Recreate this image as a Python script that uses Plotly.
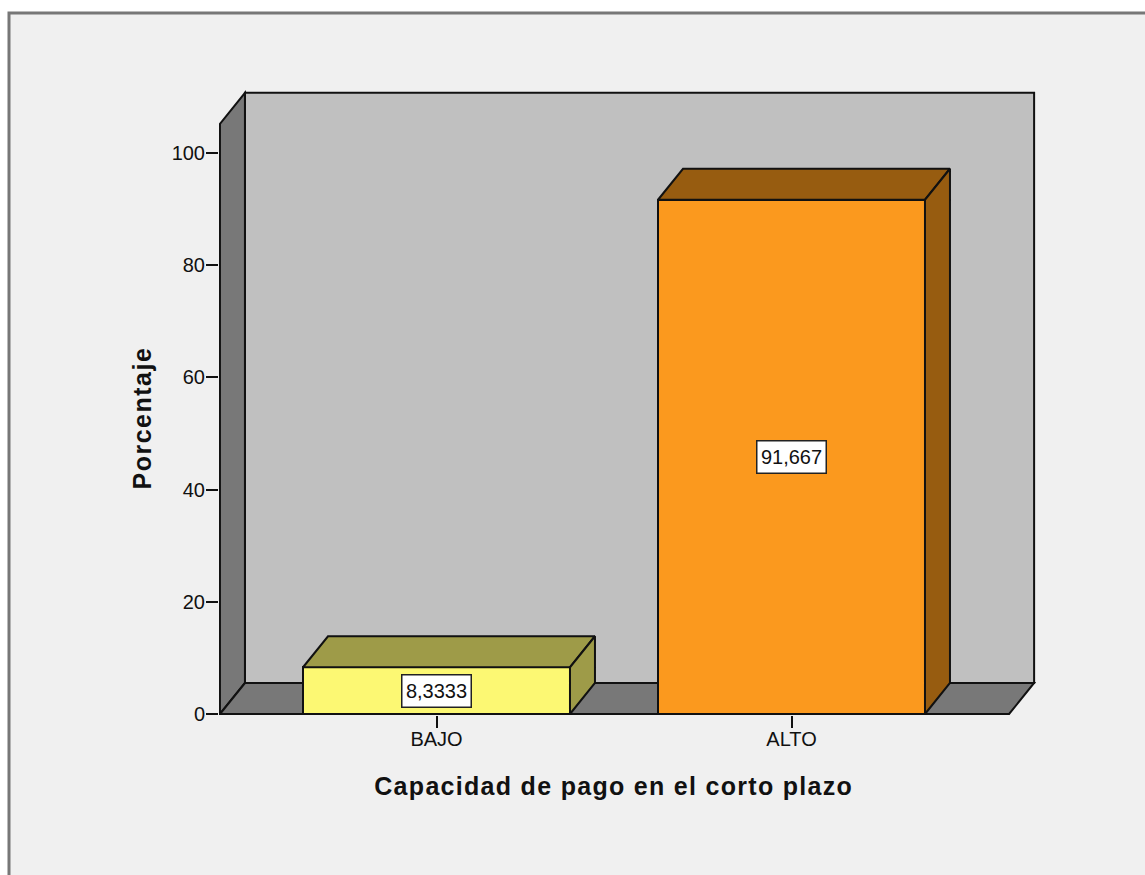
import plotly.graph_objects as go

categories = ["BAJO", "ALTO"]
values = [8.3333, 91.667]
value_labels = ["8,3333", "91,667"]
y_ticks = [0, 20, 40, 60, 80, 100]
face_colors = ["#fcf873", "#fb991e"]
shade_colors = ["#9e9b48", "#975c10"]
x_pos = [0, 1]
x_title = "Capacidad de pago en el corto plazo"
y_title = "Porcentaje"

BAR_W = 0.752
DX = 0.0704
DY = 5.526
X0, X1 = -0.61, 1.613
WALL = 105.2
EDGE = "#111111"
FONT = "Liberation Sans, Arial, sans-serif"
PL, PR, PT, PB = 219, 1036, 89, 715
PW, PH = PR - PL, PB - PT


def path(pts):
    return "M" + " L".join(f"{x},{y}" for x, y in pts) + " Z"


def wall(pts, color):
    return dict(type="path", path=path(pts), xref="x", yref="y", fillcolor=color,
                line=dict(color=EDGE, width=2), layer="below")


shapes = [
    # page frame
    dict(type="rect", xref="paper", yref="paper", x0=(9 - PL) / PW, x1=(1150 - PL) / PW,
         y0=(PB - 880) / PH, y1=(PB - 13) / PH, fillcolor="#f0f0f0",
         line=dict(color="#777777", width=3), layer="below"),
    wall([(X0 + DX, DY), (X1 + DX, DY), (X1 + DX, WALL + DY), (X0 + DX, WALL + DY)], "#c0c0c0"),
    wall([(X0, 0), (X0 + DX, DY), (X0 + DX, WALL + DY), (X0, WALL)], "#787878"),
    wall([(X0, 0), (X1, 0), (X1 + DX, DY), (X0 + DX, DY)], "#787878"),
]

fig = go.Figure()
fig.add_bar(x=x_pos, y=values, width=BAR_W, marker=dict(color=face_colors, line=dict(color=EDGE, width=2)),
            showlegend=False, hoverinfo="skip")

for xc, v, shade in zip(x_pos, values, shade_colors):
    l, r = xc - BAR_W / 2, xc + BAR_W / 2
    fig.add_scatter(x=[l, r, r + DX, l + DX, l], y=[v, v, v + DY, v + DY, v], mode="lines", fill="toself",
                    fillcolor=shade, line=dict(color=EDGE, width=2), showlegend=False, hoverinfo="skip")
    fig.add_scatter(x=[r, r + DX, r + DX, r, r], y=[0, DY, v + DY, v, 0], mode="lines", fill="toself",
                    fillcolor=shade, line=dict(color=EDGE, width=2), showlegend=False, hoverinfo="skip")

annotations = [
    dict(x=xc, y=v / 2, xref="x", yref="y", text=lab, showarrow=False, bgcolor="white",
         width=66, height=29, borderwidth=1.5, borderpad=1, bordercolor="#222222",
         font=dict(family=FONT, size=20, color="#111111"))
    for xc, v, lab in zip(x_pos, values, value_labels)
]
annotations.append(dict(x=(613 - PL) / PW, y=(PB - 786) / PH, xref="paper", yref="paper",
                        xanchor="center", yanchor="middle",
                        text=f"<b>{x_title}</b>", showarrow=False, font=dict(family=FONT, size=25, color="#111111")))
annotations.append(dict(x=(142 - PL) / PW, y=(PB - 418) / PH, xref="paper", yref="paper", textangle=-90,
                        xanchor="center", yanchor="middle",
                        text=f"<b>{y_title}</b>", showarrow=False, font=dict(family=FONT, size=25, color="#111111")))

fig.update_layout(
    width=1145, height=875, autosize=False,
    margin=dict(l=PL, r=1145 - PR, t=PT, b=875 - PB),
    paper_bgcolor="white", plot_bgcolor="rgba(0,0,0,0)",
    shapes=shapes, annotations=annotations, bargap=0,
    font=dict(family=FONT, color="#111111"),
    xaxis=dict(range=[(PL - 436.5) / 355, (PR - 436.5) / 355], tickvals=x_pos, ticktext=categories, showgrid=False,
               zeroline=False, showline=False, ticks="outside", ticklen=12, tickwidth=2, tickcolor=EDGE,
               tickfont=dict(size=20), ticklabelstandoff=-6),
    yaxis=dict(range=[(714 - PB) / 5.61, (714 - PT) / 5.61], tickvals=y_ticks, showgrid=False, zeroline=False,
               showline=False, ticks="outside", ticklen=12, tickwidth=2, tickcolor=EDGE, tickfont=dict(size=20),
               ticklabelstandoff=-3),
)

post = """
document.body.style.margin='0';
document.documentElement.style.overflow='hidden';
document.querySelectorAll('.annotation-text').forEach(function(t){
  if (t.textContent.indexOf('Capacidad') === 0) t.style.letterSpacing = '1.3px';
  if (t.textContent.indexOf('Porcentaje') === 0) t.style.letterSpacing = '1.5px';
});
"""
fig.write_html("out.html", post_script=post, config={"displayModeBar": False})
